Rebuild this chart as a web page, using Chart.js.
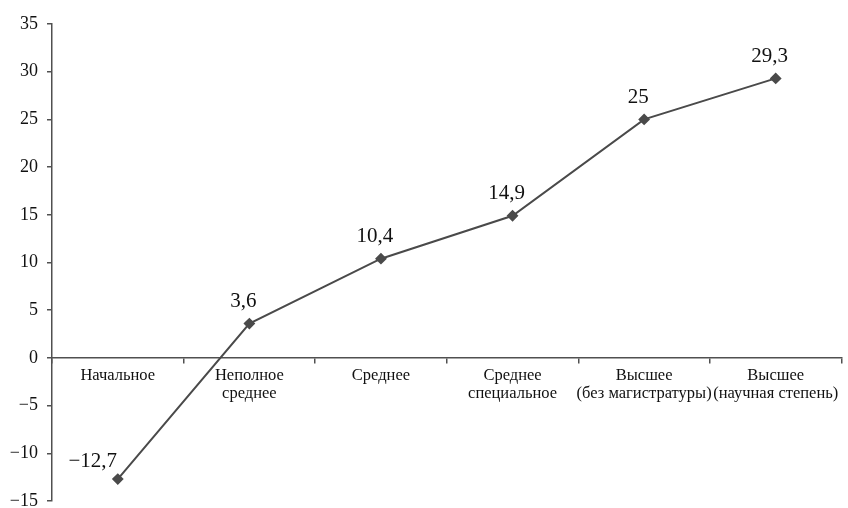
<!DOCTYPE html>
<html>
<head>
<meta charset="utf-8">
<script src="https://cdn.jsdelivr.net/npm/chart.js@4"></script>
<style>
html,body{margin:0;padding:0;background:#fff;}
#wrap{width:848px;height:508px;}
</style>
</head>
<body>
<div id="wrap"><canvas id="c" width="848" height="508"></canvas></div>
<script>
const categories = [
  ['Начальное'],
  ['Неполное', 'среднее'],
  ['Среднее'],
  ['Среднее', 'специальное'],
  ['Высшее', '(без магистратуры)'],
  ['Высшее', '(научная степень)']
];
const values = [-12.7, 3.6, 10.4, 14.9, 25, 29.3];
const yMin = -15, yMax = 35, yStep = 5;

const fmt = v => (v < 0 ? '\u2212' : '') + String(Math.abs(v)).replace('.', ',');

const valueLabels = {
  id: 'valueLabels',
  afterDatasetsDraw(chart) {
    const ctx = chart.ctx;
    const meta = chart.getDatasetMeta(0);
    ctx.save();
    ctx.font = '21px "Liberation Serif", serif';
    ctx.fillStyle = '#111';
    ctx.textAlign = 'center';
    ctx.textBaseline = 'middle';
    meta.data.forEach((pt, i) => {
      const v = values[i];
      const dx = v < 0 ? -25 : -6;
      const dy = v < 0 ? -18 : -22;
      ctx.fillText(fmt(v), pt.x + dx, pt.y + dy);
    });
    ctx.restore();
  }
};

new Chart(document.getElementById('c'), {
  type: 'line',
  data: {
    labels: categories,
    datasets: [{
      data: values,
      borderColor: '#4a4a4a',
      backgroundColor: '#4a4a4a',
      borderWidth: 2,
      tension: 0,
      pointStyle: 'rectRot',
      pointRadius: 4.5,
      pointHoverRadius: 4.5,
      pointBackgroundColor: '#4a4a4a',
      pointBorderColor: '#4a4a4a',
      fill: false
    }]
  },
  options: {
    responsive: false,
    animation: false,
    devicePixelRatio: 1,
    layout: { padding: { top: 24, right: 2, bottom: 7, left: 0 } },
    plugins: { legend: { display: false }, tooltip: { enabled: false } },
    scales: {
      x: {
        position: { y: 0 },
        offset: true,
        afterFit(scale) { scale.paddingLeft = 0; scale.paddingRight = 0; },
        grid: { display: true, drawOnChartArea: false, offset: true, tickLength: 5, color: '#505050', lineWidth: 1.5 },
        border: { display: true, color: '#505050', width: 1.5 },
        ticks: {
          color: '#111',
          font: { family: '"Liberation Serif", serif', size: 16.5, lineHeight: 1.1 },
          maxRotation: 0,
          autoSkip: false,
          padding: 4
        }
      },
      y: {
        min: yMin,
        max: yMax,
        afterFit(scale) { scale.width = 52; scale.paddingTop = 0; scale.paddingBottom = 0; },
        grid: { display: true, drawOnChartArea: false, tickLength: 5, color: '#505050', lineWidth: 1.5 },
        border: { display: true, color: '#505050', width: 1.5 },
        ticks: {
          stepSize: yStep,
          color: '#111',
          padding: 9,
          font: { family: '"Liberation Serif", serif', size: 18 },
          callback: v => fmt(v)
        }
      }
    }
  },
  plugins: [valueLabels]
});
</script>
</body>
</html>
